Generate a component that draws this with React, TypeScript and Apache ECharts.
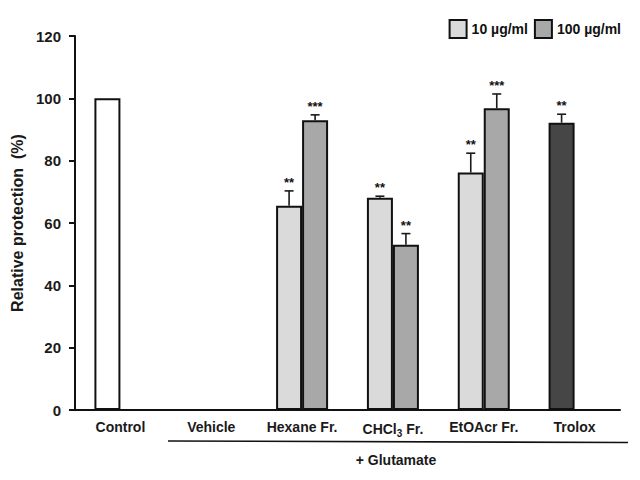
import React, { useEffect, useRef } from "react";
import * as echarts from "echarts";

// categories along the x axis
const categories = ["Control", "Vehicle", "Hexane Fr.", "CHCl3 Fr.", "EtOAcr Fr.", "Trolox"];

// 10 µg/ml series (Control and Trolox share the left slot)
const lowValues = [100, null, 65.5, 68.1, 76.2, 92.2];
const lowErrTop = [null, null, 70.3, 68.6, 82.4, 94.9];
const lowStars = ["", "", "**", "**", "**", "**"];

// 100 µg/ml series
const highValues = [null, null, 93.0, 53.0, 96.8, null];
const highErrTop = [null, null, 94.7, 56.6, 101.4, null];
const highStars = ["", "", "***", "**", "***", ""];

const FONT = '"Liberation Sans Narrow", "Arial Narrow", "Liberation Sans", Arial, sans-serif';
const WIDE = '"Liberation Sans", Arial, sans-serif';
const BAR_W = 26;

const colors: Record<string, string> = {
  Control: "#ffffff",
  Trolox: "#464646",
};

function errorSeries(values: (number | null)[], tops: (number | null)[], stars: string[], offset: number) {
  const data = values
    .map((v, i) => (v == null || tops[i] == null ? null : [i, v, tops[i] as number, i]))
    .filter((d) => d !== null);
  return {
    type: "custom",
    z: 5,
    data,
    renderItem: (params: any, api: any) => {
      const idx = api.value(3);
      const base = api.coord([api.value(0), api.value(1)]);
      const tip = api.coord([api.value(0), api.value(2)]);
      const cx = base[0] + offset;
      const stroke = { stroke: "#1a1a1a", lineWidth: 1.6 };
      return {
        type: "group",
        children: [
          { type: "line", shape: { x1: cx, y1: base[1], x2: cx, y2: tip[1] }, style: stroke },
          { type: "line", shape: { x1: cx - 4.5, y1: tip[1], x2: cx + 4.5, y2: tip[1] }, style: stroke },
          {
            type: "text",
            x: cx,
            y: tip[1] - 2,
            style: {
              text: stars[idx],
              align: "center",
              verticalAlign: "bottom",
              fill: "#111",
              font: `bold 13px ${WIDE}`,
            },
          },
        ],
      };
    },
  };
}

export default function App() {
  const chartRef = useRef<HTMLDivElement>(null);

  useEffect(() => {
    if (!chartRef.current) return;
    const chart = echarts.init(chartRef.current, undefined, { renderer: "svg" });

    chart.setOption({
      animation: false,
      backgroundColor: "#ffffff",
      grid: { left: 75, right: 20, top: 36, bottom: 70, containLabel: false },
      legend: {
        data: ["10 µg/ml", "100 µg/ml"],
        right: 14,
        top: 14,
        itemWidth: 17,
        itemHeight: 18,
        itemGap: 6,
        icon: "rect",
        selectedMode: false,
        textStyle: { fontFamily: FONT, fontWeight: "bold", fontSize: 14, color: "#111" },
      },
      xAxis: {
        type: "category",
        data: categories,
        axisLine: { lineStyle: { color: "#111", width: 2 } },
        axisTick: { length: 4, lineStyle: { color: "#111", width: 2 } },
        axisLabel: {
          interval: 0,
          margin: 10,
          fontFamily: FONT,
          fontWeight: "bold",
          fontSize: 14,
          color: "#1a1a1a",
          formatter: (v: string) => (v === "CHCl3 Fr." ? "{a|CHCl}{s|3}{a| Fr.}" : "{a|" + v + "}"),
          rich: {
            a: { fontFamily: FONT, fontWeight: "bold", fontSize: 14, color: "#1a1a1a" },
            s: { fontFamily: FONT, fontWeight: "bold", fontSize: 10, color: "#1a1a1a", padding: [8, 0, 0, 0] },
          },
        },
      },
      yAxis: {
        type: "value",
        min: 0,
        max: 120,
        interval: 20,
        name: "Relative protection  (%)",
        nameLocation: "middle",
        nameRotate: 90,
        nameGap: 45,
        nameTextStyle: { fontFamily: WIDE, fontWeight: "bold", fontSize: 16, color: "#1a1a1a" },
        axisLine: { show: true, lineStyle: { color: "#111", width: 2 } },
        axisTick: { show: true, length: 6, lineStyle: { color: "#111", width: 2 } },
        splitLine: { show: false },
        axisLabel: { margin: 14, fontFamily: FONT, fontWeight: "bold", fontSize: 15, color: "#1a1a1a" },
      },
      series: [
        {
          name: "10 µg/ml",
          type: "bar",
          barWidth: BAR_W,
          barGap: "0%",
          itemStyle: { color: "#dadada", borderColor: "#111", borderWidth: 2 },
          data: lowValues.map((v, i) =>
            v == null ? null : { value: v, itemStyle: colors[categories[i]] ? { color: colors[categories[i]] } : undefined }
          ),
        },
        {
          name: "100 µg/ml",
          type: "bar",
          barWidth: BAR_W,
          barGap: "0%",
          itemStyle: { color: "#a8a8a8", borderColor: "#111", borderWidth: 2 },
          data: highValues,
        },
        errorSeries(lowValues, lowErrTop, lowStars, -BAR_W / 2),
        errorSeries(highValues, highErrTop, highStars, BAR_W / 2),
      ],
      graphic: [
        {
          type: "line",
          shape: { x1: 168, y1: 441, x2: 628, y2: 442.5 },
          style: { stroke: "#111", lineWidth: 1.6 },
        },
        {
          type: "text",
          x: 396,
          y: 460,
          style: {
            text: "+ Glutamate",
            align: "center",
            verticalAlign: "middle",
            fill: "#1a1a1a",
            font: `bold 14px ${FONT}`,
          },
        },
      ],
    });

    return () => {
      chart.dispose();
    };
  }, []);

  return <div ref={chartRef} style={{ position: "fixed", left: 0, top: 0, width: 640, height: 480 }} />;
}
